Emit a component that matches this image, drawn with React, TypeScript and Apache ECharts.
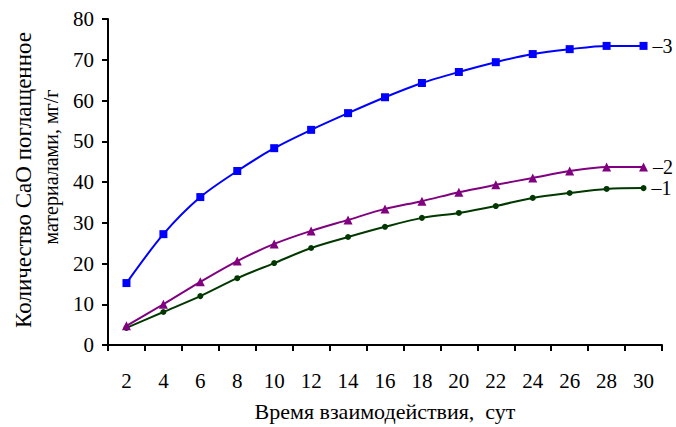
import React, { useEffect, useRef } from "react";
import * as echarts from "echarts";

const days = ["2", "4", "6", "8", "10", "12", "14", "16", "18", "20", "22", "24", "26", "28", "30"];
const series1 = [4.2, 8.1, 12.0, 16.4, 20.1, 23.8, 26.5, 29.0, 31.2, 32.4, 34.1, 36.1, 37.3, 38.3, 38.5];
const series2 = [4.7, 10.0, 15.5, 20.6, 24.8, 28.0, 30.7, 33.4, 35.3, 37.5, 39.3, 41.0, 42.7, 43.7, 43.7];
const series3 = [15.2, 27.2, 36.3, 42.7, 48.3, 52.8, 56.9, 60.8, 64.3, 67.0, 69.4, 71.4, 72.6, 73.4, 73.4];
const seriesLabels = ["–1", "–2", "–3"];
const yTitle1 = "Количество CaO поглащенное";
const yTitle2 = "материалами, мг/г";
const xTitle = "Время взаимодействия,  сут";

const FONT = "Liberation Serif, serif";
const FS = 21;

export default function App() {
  const ref = useRef<HTMLDivElement>(null);
  useEffect(() => {
    if (!ref.current) return;
    const chart = echarts.init(ref.current, undefined, { renderer: "svg" });
    const mk = (data: number[], name: string, color: string, symbol: string, size: number, label: string) => ({
      name,
      type: "line",
      data: data.map((v, i) =>
        i === data.length - 1
          ? {
              value: v,
              label: {
                show: true,
                position: "right",
                distance: 5,
                formatter: label,
                color: "#000",
                fontFamily: FONT,
                fontSize: 20,
              },
            }
          : v
      ),
      smooth: 0.3,
      symbol,
      symbolSize: size,
      showSymbol: true,
      lineStyle: { color, width: 2 },
      itemStyle: { color },
    });
    chart.setOption({
      animation: false,
      backgroundColor: "#fff",
      grid: { left: 108, right: 14, top: 19, bottom: 82 },
      xAxis: {
        type: "category",
        data: days,
        boundaryGap: true,
        axisLine: { lineStyle: { color: "#000", width: 2 } },
        axisTick: { show: true, length: 6, lineStyle: { color: "#000", width: 2 } },
        axisLabel: { color: "#000", fontFamily: FONT, fontSize: FS, margin: 25 },
        name: xTitle,
        nameLocation: "middle",
        nameGap: 55,
        nameTextStyle: { color: "#000", fontFamily: FONT, fontSize: 22 },
        splitLine: { show: false },
      },
      yAxis: {
        type: "value",
        min: 0,
        max: 80,
        interval: 10,
        axisLine: { show: true, lineStyle: { color: "#000", width: 2 } },
        axisTick: { show: true, length: 6, lineStyle: { color: "#000", width: 2 } },
        axisLabel: { color: "#000", fontFamily: FONT, fontSize: FS, margin: 14 },
        splitLine: { show: false },
      },
      graphic: [
        {
          type: "text",
          x: 23,
          y: 180,
          rotation: Math.PI / 2,
          style: { text: yTitle1, align: "center", verticalAlign: "middle", fill: "#000", fontFamily: FONT, fontSize: 23 },
        },
        {
          type: "text",
          x: 51,
          y: 167,
          rotation: Math.PI / 2,
          style: { text: yTitle2, align: "center", verticalAlign: "middle", fill: "#000", fontFamily: FONT, fontSize: 20 },
        },
      ],
      series: [
        mk(series1, "1", "#003800", "circle", 6, seriesLabels[0]),
        mk(series2, "2", "#800080", "triangle", 9, seriesLabels[1]),
        mk(series3, "3", "#0000FF", "rect", 8, seriesLabels[2]),
      ],
    });
    return () => chart.dispose();
  }, []);
  return <div ref={ref} style={{ width: 676, height: 427, position: "absolute", left: 0, top: 0 }} />;
}
